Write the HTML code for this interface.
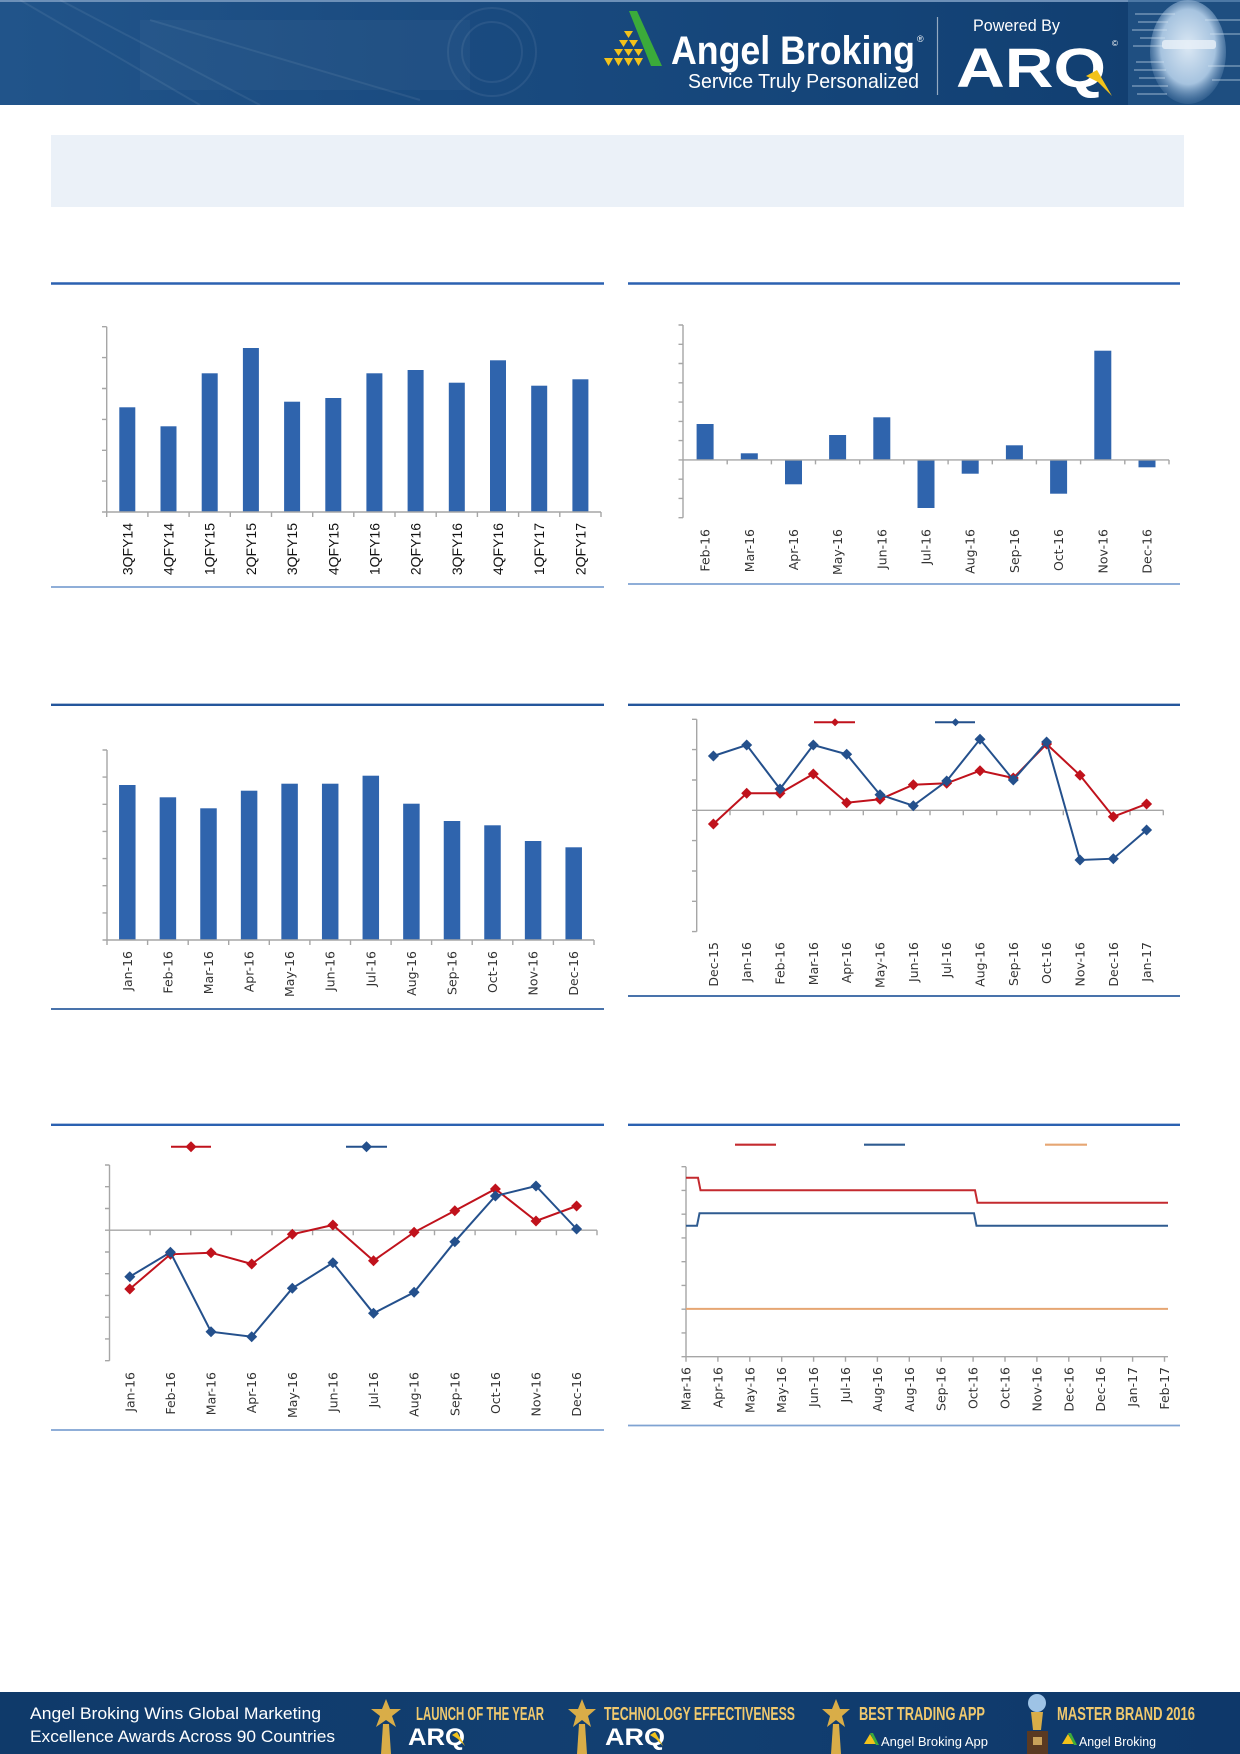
<!DOCTYPE html>
<html><head><meta charset="utf-8"><style>
html,body{margin:0;padding:0;background:#fff;}
svg{display:block;}
.l1{font-family:"Liberation Sans",Arial,sans-serif;font-size:14px;fill:#111;}
.l2{font-family:"DejaVu Sans","Liberation Sans",sans-serif;font-size:12.5px;fill:#333;}
</style></head><body>
<svg width="1240" height="1754" viewBox="0 0 1240 1754" xmlns="http://www.w3.org/2000/svg">
<defs>
<linearGradient id="hg" x1="0" y1="0" x2="1" y2="0">
<stop offset="0" stop-color="#21548a"/><stop offset="0.35" stop-color="#1a4b80"/><stop offset="0.7" stop-color="#144478"/><stop offset="1" stop-color="#113d6e"/>
</linearGradient>
<linearGradient id="fg" x1="0" y1="0" x2="1" y2="0">
<stop offset="0" stop-color="#0f3a6a"/><stop offset="0.5" stop-color="#123f71"/><stop offset="1" stop-color="#0e386a"/>
</linearGradient>
<radialGradient id="face" cx="0.5" cy="0.45" r="0.6">
<stop offset="0" stop-color="#dbe8f4"/><stop offset="0.6" stop-color="#a6c3df"/><stop offset="1" stop-color="#5c85b2" stop-opacity="0"/>
</radialGradient>
<path id="dm" d="M0,-5.5L5.5,0L0,5.5L-5.5,0Z"/>
<path id="ds" d="M0,-4L4,0L0,4L-4,0Z"/>
</defs>

<!-- HEADER -->
<rect x="0" y="0" width="1240" height="105" fill="url(#hg)"/>
<rect x="0" y="0" width="1240" height="2" fill="#6d90b8"/>
<g stroke="#ffffff" stroke-opacity="0.07" fill="none" stroke-width="2">
<path d="M20,0 L200,105 M60,0 L260,105 M150,20 L420,100"/>
<circle cx="492" cy="52" r="30"/><circle cx="492" cy="52" r="44"/>
</g>
<rect x="140" y="20" width="330" height="70" fill="#ffffff" fill-opacity="0.03"/>
<!-- logo -->
<g fill="#f2c21b">
<path d="M624,31h9l-4.5,7z"/>
<path d="M619,40h9l-4.5,7z M629,40h9l-4.5,7z"/>
<path d="M614,49h9l-4.5,7z M624,49h9l-4.5,7z M634,49h9l-4.5,7z"/>
<path d="M604,58h9l-4.5,8z M614,58h9l-4.5,8z M624,58h9l-4.5,8z M634,58h9l-4.5,8z"/>
</g>
<path d="M629,11 L637,11 L662,66 L651,66 Z" fill="#3bab3a"/>
<text x="671" y="64" fill="#fff" font-family="'Liberation Sans',sans-serif" font-weight="bold" font-size="40" textLength="244" lengthAdjust="spacingAndGlyphs">Angel Broking</text>
<text x="917" y="42" fill="#fff" font-family="'Liberation Sans',sans-serif" font-size="9">®</text>
<text x="688" y="88" fill="#fff" font-family="'Liberation Sans',sans-serif" font-size="20" textLength="231" lengthAdjust="spacingAndGlyphs">Service Truly Personalized</text>
<line x1="937.5" y1="17" x2="937.5" y2="95" stroke="#ffffff" stroke-opacity="0.55" stroke-width="1.2"/>
<text x="973" y="31" fill="#fff" font-family="'Liberation Sans',sans-serif" font-size="17" textLength="87" lengthAdjust="spacingAndGlyphs">Powered By</text>
<text x="956" y="87" fill="#fff" font-family="'Liberation Sans',sans-serif" font-weight="bold" font-size="56" textLength="150" lengthAdjust="spacingAndGlyphs">ARQ</text>
<path d="M1086,76 L1097,70 L1112,96 L1098,82 Z" fill="#f2c21b"/>
<text x="1112" y="46" fill="#fff" font-family="'Liberation Sans',sans-serif" font-size="8">©</text>
<!-- face -->
<rect x="1128" y="0" width="112" height="105" fill="#2c5f92" fill-opacity="0.5"/>
<ellipse cx="1188" cy="52" rx="38" ry="52" fill="url(#face)"/>
<g stroke="#d6e5f3" stroke-opacity="0.55" stroke-width="1.2">
<path d="M1135,14h40 M1138,22h30 M1132,30h35 M1140,38h25 M1133,46h30 M1136,62h28 M1134,70h32 M1139,78h26 M1132,86h36 M1137,94h30 M1205,20h35 M1210,34h30 M1208,66h32 M1212,80h28"/>
</g>
<rect x="1162" y="40" width="54" height="9" rx="3" fill="#e8f0f8" fill-opacity="0.8"/>

<!-- light box -->
<rect x="51" y="135" width="1133" height="72" fill="#ebf1f8"/>

<!-- section lines -->
<g stroke-width="2.4">
<line x1="51" y1="283.5" x2="604" y2="283.5" stroke="#2b61b1"/>
<line x1="628" y1="283.5" x2="1180" y2="283.5" stroke="#2b61b1"/>
<line x1="51" y1="704.8" x2="604" y2="704.8" stroke="#24569c"/>
<line x1="628" y1="704.8" x2="1180" y2="704.8" stroke="#24569c"/>
<line x1="51" y1="1124.8" x2="604" y2="1124.8" stroke="#2b61b1"/>
<line x1="628" y1="1124.8" x2="1180" y2="1124.8" stroke="#2b61b1"/>
</g>
<g stroke-width="1.8">
<line x1="51" y1="587" x2="604" y2="587" stroke="#7fa3d2"/>
<line x1="628" y1="584" x2="1180" y2="584" stroke="#7fa3d2"/>
<line x1="51" y1="1009" x2="604" y2="1009" stroke="#2f5f9f"/>
<line x1="628" y1="996" x2="1180" y2="996" stroke="#2f5f9f"/>
<line x1="51" y1="1430" x2="604" y2="1430" stroke="#7fa3d2"/>
<line x1="628" y1="1425.5" x2="1180" y2="1425.5" stroke="#7fa3d2"/>
</g>

<!-- CHART 1 -->
<g fill="#2f64ad">
<rect x="119.3" y="407.3" width="16" height="104.7"/>
<rect x="160.5" y="426.3" width="16" height="85.7"/>
<rect x="201.7" y="373.3" width="16" height="138.7"/>
<rect x="242.9" y="348" width="16" height="164"/>
<rect x="284.1" y="401.7" width="16" height="110.3"/>
<rect x="325.3" y="398" width="16" height="114"/>
<rect x="366.4" y="373.3" width="16" height="138.7"/>
<rect x="407.6" y="370" width="16" height="142"/>
<rect x="448.8" y="382.7" width="16" height="129.3"/>
<rect x="490" y="360.3" width="16" height="151.7"/>
<rect x="531.2" y="385.7" width="16" height="126.3"/>
<rect x="572.4" y="379.3" width="16" height="132.7"/>
</g>
<g stroke="#a6a6a6" stroke-width="1.4" fill="none">
<path d="M106.7,326.7V512H601"/>
<path d="M102,326.7h4.7M102,357.6h4.7M102,388.5h4.7M102,419.4h4.7M102,450.3h4.7M102,481.1h4.7M102,512h4.7"/>
<path d="M106.7,512v5M147.9,512v5M189.1,512v5M230.3,512v5M271.5,512v5M312.7,512v5M353.8,512v5M395,512v5M436.2,512v5M477.4,512v5M518.6,512v5M559.8,512v5M601,512v5"/>
</g>
<g class="l1" text-anchor="end">
<text transform="translate(132.3,523) rotate(-90)">3QFY14</text>
<text transform="translate(173.5,523) rotate(-90)">4QFY14</text>
<text transform="translate(214.7,523) rotate(-90)">1QFY15</text>
<text transform="translate(255.9,523) rotate(-90)">2QFY15</text>
<text transform="translate(297.1,523) rotate(-90)">3QFY15</text>
<text transform="translate(338.3,523) rotate(-90)">4QFY15</text>
<text transform="translate(379.4,523) rotate(-90)">1QFY16</text>
<text transform="translate(420.6,523) rotate(-90)">2QFY16</text>
<text transform="translate(461.8,523) rotate(-90)">3QFY16</text>
<text transform="translate(503,523) rotate(-90)">4QFY16</text>
<text transform="translate(544.2,523) rotate(-90)">1QFY17</text>
<text transform="translate(585.4,523) rotate(-90)">2QFY17</text>
</g>

<!-- CHART 2 -->
<g fill="#2f64ad">
<rect x="696.6" y="424" width="17" height="35.9"/>
<rect x="740.8" y="453.3" width="17" height="6.6"/>
<rect x="785" y="459.9" width="17" height="24.4"/>
<rect x="829.1" y="435" width="17" height="24.9"/>
<rect x="873.3" y="417.3" width="17" height="42.6"/>
<rect x="917.5" y="459.9" width="17" height="48.1"/>
<rect x="961.7" y="459.9" width="17" height="13.8"/>
<rect x="1005.9" y="445.3" width="17" height="14.6"/>
<rect x="1050.1" y="459.9" width="17" height="33.8"/>
<rect x="1094.3" y="350.7" width="17" height="109.2"/>
<rect x="1138.5" y="459.9" width="17" height="7.4"/>
</g>
<g stroke="#a6a6a6" stroke-width="1.4" fill="none">
<path d="M683,325V517.7M683,459.9H1169"/>
<path d="M678.5,325h4.5M678.5,344.3h4.5M678.5,363.5h4.5M678.5,382.8h4.5M678.5,402.1h4.5M678.5,421.4h4.5M678.5,440.6h4.5M678.5,459.9h4.5M678.5,479.2h4.5M678.5,498.4h4.5M678.5,517.7h4.5"/>
<path d="M727.2,459.9v4.5M771.4,459.9v4.5M815.5,459.9v4.5M859.7,459.9v4.5M903.9,459.9v4.5M948.1,459.9v4.5M992.3,459.9v4.5M1036.4,459.9v4.5M1080.6,459.9v4.5M1124.8,459.9v4.5M1169,459.9v4.5"/>
</g>
<g class="l2" text-anchor="end">
<text transform="translate(709.6,529) rotate(-90)">Feb-16</text>
<text transform="translate(753.8,529) rotate(-90)">Mar-16</text>
<text transform="translate(798,529) rotate(-90)">Apr-16</text>
<text transform="translate(842.1,529) rotate(-90)">May-16</text>
<text transform="translate(886.3,529) rotate(-90)">Jun-16</text>
<text transform="translate(930.5,529) rotate(-90)">Jul-16</text>
<text transform="translate(974.7,529) rotate(-90)">Aug-16</text>
<text transform="translate(1018.9,529) rotate(-90)">Sep-16</text>
<text transform="translate(1063.1,529) rotate(-90)">Oct-16</text>
<text transform="translate(1107.3,529) rotate(-90)">Nov-16</text>
<text transform="translate(1151.5,529) rotate(-90)">Dec-16</text>
</g>

<!-- CHART 3 -->
<g fill="#2f64ad">
<rect x="119.05" y="785" width="16.5" height="155"/>
<rect x="159.65" y="797.3" width="16.5" height="142.7"/>
<rect x="200.25" y="808.3" width="16.5" height="131.7"/>
<rect x="240.85" y="790.7" width="16.5" height="149.3"/>
<rect x="281.35" y="783.7" width="16.5" height="156.3"/>
<rect x="321.95" y="783.7" width="16.5" height="156.3"/>
<rect x="362.55" y="775.7" width="16.5" height="164.3"/>
<rect x="403.15" y="803.7" width="16.5" height="136.3"/>
<rect x="443.75" y="821" width="16.5" height="119"/>
<rect x="484.25" y="825.3" width="16.5" height="114.7"/>
<rect x="524.85" y="841" width="16.5" height="99"/>
<rect x="565.45" y="847.3" width="16.5" height="92.7"/>
</g>
<g stroke="#a6a6a6" stroke-width="1.4" fill="none">
<path d="M107,750V940H594"/>
<path d="M102.5,750h4.5M102.5,777.1h4.5M102.5,804.3h4.5M102.5,831.4h4.5M102.5,858.6h4.5M102.5,885.7h4.5M102.5,912.9h4.5M102.5,940h4.5"/>
<path d="M107,940v5M147.6,940v5M188.2,940v5M228.7,940v5M269.3,940v5M309.9,940v5M350.5,940v5M391.1,940v5M431.6,940v5M472.2,940v5M512.8,940v5M553.4,940v5M594,940v5"/>
</g>
<g class="l2" text-anchor="end">
<text transform="translate(131.8,951) rotate(-90)">Jan-16</text>
<text transform="translate(172.4,951) rotate(-90)">Feb-16</text>
<text transform="translate(213,951) rotate(-90)">Mar-16</text>
<text transform="translate(253.6,951) rotate(-90)">Apr-16</text>
<text transform="translate(294.1,951) rotate(-90)">May-16</text>
<text transform="translate(334.7,951) rotate(-90)">Jun-16</text>
<text transform="translate(375.3,951) rotate(-90)">Jul-16</text>
<text transform="translate(415.9,951) rotate(-90)">Aug-16</text>
<text transform="translate(456.5,951) rotate(-90)">Sep-16</text>
<text transform="translate(497,951) rotate(-90)">Oct-16</text>
<text transform="translate(537.6,951) rotate(-90)">Nov-16</text>
<text transform="translate(578.2,951) rotate(-90)">Dec-16</text>
</g>

<!-- CHART 4 -->
<g stroke="#a6a6a6" stroke-width="1.4" fill="none">
<path d="M696.7,719.3V931.6M696.7,810.3H1163.3"/>
<path d="M692,719.3h4.7M692,749.6h4.7M692,780h4.7M692,810.3h4.7M692,840.6h4.7M692,871h4.7M692,901.3h4.7M692,931.6h4.7"/>
<path d="M730,810.3v5M763.4,810.3v5M796.7,810.3v5M830,810.3v5M863.3,810.3v5M896.7,810.3v5M930,810.3v5M963.3,810.3v5M996.7,810.3v5M1030,810.3v5M1063.3,810.3v5M1096.7,810.3v5M1130,810.3v5M1163.3,810.3v5"/>
</g>
<polyline fill="none" stroke="#c0121c" stroke-width="2" points="713.4,824 746.7,793.3 780,793.3 813.3,774 846.7,802.7 880,799.3 913.3,784.7 946.7,783.3 980,770.7 1013.3,778 1046.6,744 1080,775.3 1113.3,816.7 1146.6,804"/>
<g fill="#c0121c">
<use href="#dm" x="713.4" y="824"/><use href="#dm" x="746.7" y="793.3"/><use href="#dm" x="780" y="793.3"/><use href="#dm" x="813.3" y="774"/><use href="#dm" x="846.7" y="802.7"/><use href="#dm" x="880" y="799.3"/><use href="#dm" x="913.3" y="784.7"/><use href="#dm" x="946.7" y="783.3"/><use href="#dm" x="980" y="770.7"/><use href="#dm" x="1013.3" y="778"/><use href="#dm" x="1046.6" y="744"/><use href="#dm" x="1080" y="775.3"/><use href="#dm" x="1113.3" y="816.7"/><use href="#dm" x="1146.6" y="804"/>
</g>
<polyline fill="none" stroke="#24508c" stroke-width="2" points="713.4,756 746.7,745 780,789 813.3,745 846.7,754.3 880,794.7 913.3,805.7 946.7,781 980,739.3 1013.3,780 1046.6,742 1080,860 1113.3,858.7 1146.6,830"/>
<g fill="#24508c">
<use href="#dm" x="713.4" y="756"/><use href="#dm" x="746.7" y="745"/><use href="#dm" x="780" y="789"/><use href="#dm" x="813.3" y="745"/><use href="#dm" x="846.7" y="754.3"/><use href="#dm" x="880" y="794.7"/><use href="#dm" x="913.3" y="805.7"/><use href="#dm" x="946.7" y="781"/><use href="#dm" x="980" y="739.3"/><use href="#dm" x="1013.3" y="780"/><use href="#dm" x="1046.6" y="742"/><use href="#dm" x="1080" y="860"/><use href="#dm" x="1113.3" y="858.7"/><use href="#dm" x="1146.6" y="830"/>
</g>
<line x1="814" y1="722.3" x2="855" y2="722.3" stroke="#c0121c" stroke-width="2"/>
<use href="#ds" x="835" y="722.3" fill="#c0121c"/>
<line x1="935" y1="722.3" x2="975" y2="722.3" stroke="#24508c" stroke-width="2"/>
<use href="#ds" x="955.5" y="722.3" fill="#24508c"/>
<g class="l2" text-anchor="end">
<text transform="translate(717.9,942) rotate(-90)">Dec-15</text>
<text transform="translate(751.2,942) rotate(-90)">Jan-16</text>
<text transform="translate(784.5,942) rotate(-90)">Feb-16</text>
<text transform="translate(817.8,942) rotate(-90)">Mar-16</text>
<text transform="translate(851.2,942) rotate(-90)">Apr-16</text>
<text transform="translate(884.5,942) rotate(-90)">May-16</text>
<text transform="translate(917.8,942) rotate(-90)">Jun-16</text>
<text transform="translate(951.2,942) rotate(-90)">Jul-16</text>
<text transform="translate(984.5,942) rotate(-90)">Aug-16</text>
<text transform="translate(1017.8,942) rotate(-90)">Sep-16</text>
<text transform="translate(1051.1,942) rotate(-90)">Oct-16</text>
<text transform="translate(1084.5,942) rotate(-90)">Nov-16</text>
<text transform="translate(1117.8,942) rotate(-90)">Dec-16</text>
<text transform="translate(1151.1,942) rotate(-90)">Jan-17</text>
</g>

<!-- CHART 5 -->
<g stroke="#a6a6a6" stroke-width="1.4" fill="none">
<path d="M109.5,1165V1360.7M109.5,1230.2H597"/>
<path d="M105,1165h4.5M105,1186.7h4.5M105,1208.5h4.5M105,1230.2h4.5M105,1252h4.5M105,1273.7h4.5M105,1295.4h4.5M105,1317.2h4.5M105,1338.9h4.5M105,1360.7h4.5"/>
<path d="M150.1,1230.2v5M190.75,1230.2v5M231.4,1230.2v5M272,1230.2v5M312.6,1230.2v5M353.25,1230.2v5M393.9,1230.2v5M434.5,1230.2v5M475.1,1230.2v5M515.75,1230.2v5M556.4,1230.2v5M597,1230.2v5"/>
</g>
<polyline fill="none" stroke="#c0121c" stroke-width="2" points="129.8,1289 170.4,1254.3 211,1252.7 251.7,1264 292.3,1234.3 332.9,1225 373.5,1260.7 414.1,1232.3 454.8,1210.7 495.4,1189 536,1221 576.6,1206"/>
<g fill="#c0121c">
<use href="#dm" x="129.8" y="1289"/><use href="#dm" x="170.4" y="1254.3"/><use href="#dm" x="211" y="1252.7"/><use href="#dm" x="251.7" y="1264"/><use href="#dm" x="292.3" y="1234.3"/><use href="#dm" x="332.9" y="1225"/><use href="#dm" x="373.5" y="1260.7"/><use href="#dm" x="414.1" y="1232.3"/><use href="#dm" x="454.8" y="1210.7"/><use href="#dm" x="495.4" y="1189"/><use href="#dm" x="536" y="1221"/><use href="#dm" x="576.6" y="1206"/>
</g>
<polyline fill="none" stroke="#24508c" stroke-width="2" points="129.8,1276.7 170.4,1252.3 211,1331.7 251.7,1336.7 292.3,1288.3 332.9,1262.7 373.5,1313.3 414.1,1292.3 454.8,1241.7 495.4,1196 536,1186 576.6,1229"/>
<g fill="#24508c">
<use href="#dm" x="129.8" y="1276.7"/><use href="#dm" x="170.4" y="1252.3"/><use href="#dm" x="211" y="1331.7"/><use href="#dm" x="251.7" y="1336.7"/><use href="#dm" x="292.3" y="1288.3"/><use href="#dm" x="332.9" y="1262.7"/><use href="#dm" x="373.5" y="1313.3"/><use href="#dm" x="414.1" y="1292.3"/><use href="#dm" x="454.8" y="1241.7"/><use href="#dm" x="495.4" y="1196"/><use href="#dm" x="536" y="1186"/><use href="#dm" x="576.6" y="1229"/>
</g>
<line x1="171" y1="1146.7" x2="211" y2="1146.7" stroke="#c0121c" stroke-width="2"/>
<use href="#dm" x="191" y="1146.7" fill="#c0121c"/>
<line x1="346" y1="1146.7" x2="387" y2="1146.7" stroke="#24508c" stroke-width="2"/>
<use href="#dm" x="366.5" y="1146.7" fill="#24508c"/>
<g class="l2" text-anchor="end">
<text transform="translate(134.3,1372) rotate(-90)">Jan-16</text>
<text transform="translate(174.9,1372) rotate(-90)">Feb-16</text>
<text transform="translate(215.5,1372) rotate(-90)">Mar-16</text>
<text transform="translate(256.2,1372) rotate(-90)">Apr-16</text>
<text transform="translate(296.8,1372) rotate(-90)">May-16</text>
<text transform="translate(337.4,1372) rotate(-90)">Jun-16</text>
<text transform="translate(378,1372) rotate(-90)">Jul-16</text>
<text transform="translate(418.6,1372) rotate(-90)">Aug-16</text>
<text transform="translate(459.3,1372) rotate(-90)">Sep-16</text>
<text transform="translate(499.9,1372) rotate(-90)">Oct-16</text>
<text transform="translate(540.5,1372) rotate(-90)">Nov-16</text>
<text transform="translate(581.1,1372) rotate(-90)">Dec-16</text>
</g>

<!-- CHART 6 -->
<g stroke="#a6a6a6" stroke-width="1.4" fill="none">
<path d="M686,1166.7V1356.7H1168"/>
<path d="M681.5,1166.7h4.5M681.5,1190.45h4.5M681.5,1214.2h4.5M681.5,1237.95h4.5M681.5,1261.7h4.5M681.5,1285.45h4.5M681.5,1309.2h4.5M681.5,1332.95h4.5M681.5,1356.7h4.5"/>
<path d="M686,1356.7v5M717.9,1356.7v5M749.8,1356.7v5M781.7,1356.7v5M813.6,1356.7v5M845.5,1356.7v5M877.4,1356.7v5M909.3,1356.7v5M941.2,1356.7v5M973.1,1356.7v5M1005,1356.7v5M1036.9,1356.7v5M1068.8,1356.7v5M1100.7,1356.7v5M1132.6,1356.7v5M1164.5,1356.7v5"/>
</g>
<path d="M686,1308.9H1168" stroke="#e6a673" stroke-width="2" fill="none"/>
<path d="M686,1177.7H698L700.5,1190.3H975L977.5,1202.7H1168" stroke="#c42a2f" stroke-width="2" fill="none"/>
<path d="M686,1225.7H697L699.5,1213.3H974L976.5,1225.7H1168" stroke="#2f5b90" stroke-width="2" fill="none"/>
<line x1="735" y1="1144.7" x2="776" y2="1144.7" stroke="#c42a2f" stroke-width="2.2"/>
<line x1="864" y1="1144.7" x2="905" y2="1144.7" stroke="#2f5b90" stroke-width="2.2"/>
<line x1="1045" y1="1144.7" x2="1087" y2="1144.7" stroke="#e6a673" stroke-width="2.2"/>
<g class="l2" text-anchor="end">
<text transform="translate(690.5,1367) rotate(-90)">Mar-16</text>
<text transform="translate(722.4,1367) rotate(-90)">Apr-16</text>
<text transform="translate(754.3,1367) rotate(-90)">May-16</text>
<text transform="translate(786.2,1367) rotate(-90)">May-16</text>
<text transform="translate(818.1,1367) rotate(-90)">Jun-16</text>
<text transform="translate(850,1367) rotate(-90)">Jul-16</text>
<text transform="translate(881.9,1367) rotate(-90)">Aug-16</text>
<text transform="translate(913.8,1367) rotate(-90)">Aug-16</text>
<text transform="translate(945.7,1367) rotate(-90)">Sep-16</text>
<text transform="translate(977.6,1367) rotate(-90)">Oct-16</text>
<text transform="translate(1009.5,1367) rotate(-90)">Oct-16</text>
<text transform="translate(1041.4,1367) rotate(-90)">Nov-16</text>
<text transform="translate(1073.3,1367) rotate(-90)">Dec-16</text>
<text transform="translate(1105.2,1367) rotate(-90)">Dec-16</text>
<text transform="translate(1137.1,1367) rotate(-90)">Jan-17</text>
<text transform="translate(1169,1367) rotate(-90)">Feb-17</text>
</g>

<!-- FOOTER -->
<rect x="0" y="1692" width="1240" height="62" fill="url(#fg)"/>
<g font-family="'Liberation Sans',sans-serif" fill="#fff" font-size="17">
<text x="30" y="1719" textLength="291" lengthAdjust="spacingAndGlyphs">Angel Broking Wins Global Marketing</text>
<text x="30" y="1742" textLength="305" lengthAdjust="spacingAndGlyphs">Excellence Awards Across 90 Countries</text>
</g>
<!-- stars -->
<g fill="#d9ad48">
<path d="M386,1699 L390,1709 L401,1709 L392,1716 L396,1727 L386,1720 L376,1727 L380,1716 L371,1709 L382,1709 Z"/>
<path d="M383,1724h6l2,30h-10z"/>
<path d="M582,1699 L586,1709 L596,1709 L588,1716 L591,1727 L582,1720 L573,1727 L576,1716 L568,1709 L578,1709 Z"/>
<path d="M579,1724h6l2,30h-10z"/>
<path d="M836,1699 L840,1709 L850,1709 L842,1716 L845,1727 L836,1720 L827,1727 L830,1716 L822,1709 L832,1709 Z"/>
<path d="M833,1724h6l2,30h-10z"/>
</g>
<circle cx="1037" cy="1703" r="9" fill="#9ec3e6"/>
<path d="M1031,1712h12l-2,18h-8z" fill="#d9ad48"/>
<rect x="1027" y="1731" width="21" height="23" fill="#5a3a22"/>
<rect x="1033" y="1737" width="9" height="8" fill="#c9a25a"/>
<g font-family="'Liberation Sans',sans-serif" font-weight="bold" fill="#f0c96e" font-size="18">
<text x="416" y="1720" textLength="128" lengthAdjust="spacingAndGlyphs">LAUNCH OF THE YEAR</text>
<text x="604" y="1720" textLength="191" lengthAdjust="spacingAndGlyphs">TECHNOLOGY EFFECTIVENESS</text>
<text x="859" y="1720" textLength="126" lengthAdjust="spacingAndGlyphs">BEST TRADING APP</text>
<text x="1057" y="1720" textLength="138" lengthAdjust="spacingAndGlyphs">MASTER BRAND 2016</text>
</g>
<g font-family="'Liberation Sans',sans-serif" font-weight="bold" fill="#fff" font-size="24">
<text x="408" y="1745" textLength="57" lengthAdjust="spacingAndGlyphs">ARQ</text>
<text x="605" y="1745" textLength="60" lengthAdjust="spacingAndGlyphs">ARQ</text>
</g>
<path d="M452,1735 L457,1732 L465,1746 L458,1739 Z" fill="#f2c21b"/>
<path d="M650,1735 L655,1732 L663,1746 L656,1739 Z" fill="#f2c21b"/>
<g fill="#f2c21b">
<path d="M864,1744h12l-6,-10z"/>
<path d="M1062,1744h12l-6,-10z"/>
</g>
<path d="M870,1733l3,0l6,12l-3,0z" fill="#3bab3a"/>
<path d="M1068,1733l3,0l6,12l-3,0z" fill="#3bab3a"/>
<g font-family="'Liberation Sans',sans-serif" fill="#fff" font-size="13">
<text x="881" y="1746" textLength="107" lengthAdjust="spacingAndGlyphs">Angel Broking App</text>
<text x="1079" y="1746" textLength="77" lengthAdjust="spacingAndGlyphs">Angel Broking</text>
</g>
</svg>
</body></html>
